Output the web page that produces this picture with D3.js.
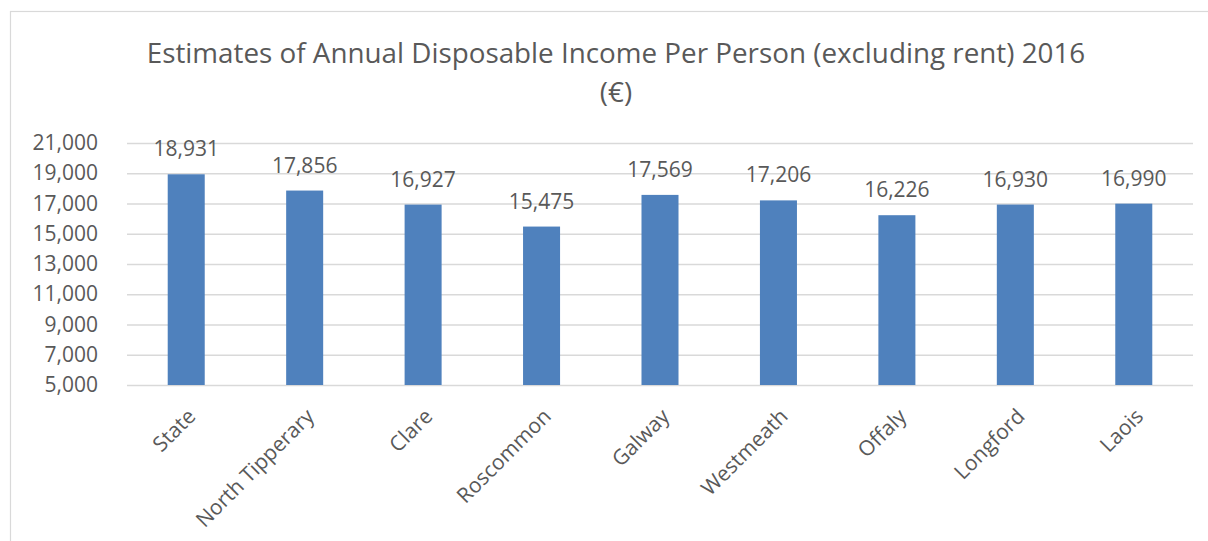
<!DOCTYPE html>
<html>
<head>
<meta charset="utf-8">
<script src="https://cdn.jsdelivr.net/npm/d3@7"></script>
<style>
  html, body { margin: 0; padding: 0; background: #fff; }
  svg { display: block; font-family: "Open Sans", "Noto Sans", sans-serif; }
</style>
</head>
<body>
<svg id="chart" width="1208" height="541"></svg>
<script>
// Counties and their estimated disposable income per person (€), 2016
const categories = ["State", "North Tipperary", "Clare", "Roscommon", "Galway",
                    "Westmeath", "Offaly", "Longford", "Laois"];
const incomes = [18931, 17856, 16927, 15475, 17569, 17206, 16226, 16930, 16990];
const yTicks = [5000, 7000, 9000, 11000, 13000, 15000, 17000, 19000, 21000];
const titleLines = ["Estimates of Annual Disposable Income Per Person (excluding rent) 2016", "(€)"];

const W = 1208, H = 541;
const plot = { left: 127, right: 1193, top: 143, bottom: 385 };
const textColor = "#595959";
const gridColor = "#D9D9D9";
const barColor = "#4F81BD";

const svg = d3.select("#chart");

// chart frame
svg.append("rect")
  .attr("x", 10.5).attr("y", 11.5)
  .attr("width", W + 20).attr("height", H + 20)
  .attr("fill", "#fff")
  .attr("stroke", gridColor).attr("stroke-width", 1.2);

// title
svg.append("g").selectAll("text")
  .data(titleLines)
  .join("text")
  .attr("x", 616)
  .attr("y", (d, i) => 63 + i * 39)
  .attr("text-anchor", "middle")
  .attr("fill", textColor)
  .attr("font-size", 27.8)
  .text(d => d);

const x = d3.scaleBand()
  .domain(categories)
  .range([plot.left, plot.right])
  .paddingInner(0.6875)
  .paddingOuter(0.34375);

const y = d3.scaleLinear()
  .domain([5000, 21000])
  .range([plot.bottom, plot.top]);

// horizontal gridlines and y tick labels
const yAxis = d3.axisLeft(y)
  .tickValues(yTicks)
  .tickFormat(d3.format(","))
  .tickSize(-(plot.right - plot.left))
  .tickPadding(29);

const gy = svg.append("g")
  .attr("transform", `translate(${plot.left},0)`)
  .call(yAxis);
gy.select(".domain").remove();
gy.selectAll(".tick line")
  .attr("stroke", gridColor)
  .attr("stroke-width", 1.3);
gy.selectAll(".tick text")
  .attr("fill", textColor)
  .attr("font-size", 21)
  .attr("font-family", "Open Sans, sans-serif");

// bars
svg.append("g").selectAll("rect")
  .data(categories)
  .join("rect")
  .attr("x", d => x(d))
  .attr("width", x.bandwidth())
  .attr("y", (d, i) => y(incomes[i]))
  .attr("height", (d, i) => y(5000) - y(incomes[i]))
  .attr("fill", barColor);

// value labels above bars
svg.append("g").selectAll("text")
  .data(categories)
  .join("text")
  .attr("x", d => x(d) + x.bandwidth() / 2)
  .attr("y", (d, i) => y(incomes[i]) - 18)
  .attr("text-anchor", "middle")
  .attr("fill", textColor)
  .attr("font-size", 21)
  .text((d, i) => d3.format(",")(incomes[i]));

// rotated category labels
svg.append("g").selectAll("text")
  .data(categories)
  .join("text")
  .attr("transform", d => `translate(${x(d) + x.bandwidth() / 2},407) rotate(-45)`)
  .attr("text-anchor", "end")
  .attr("dy", "0.72em")
  .attr("fill", textColor)
  .attr("font-size", 21)
  .text(d => d);
</script>
</body>
</html>
